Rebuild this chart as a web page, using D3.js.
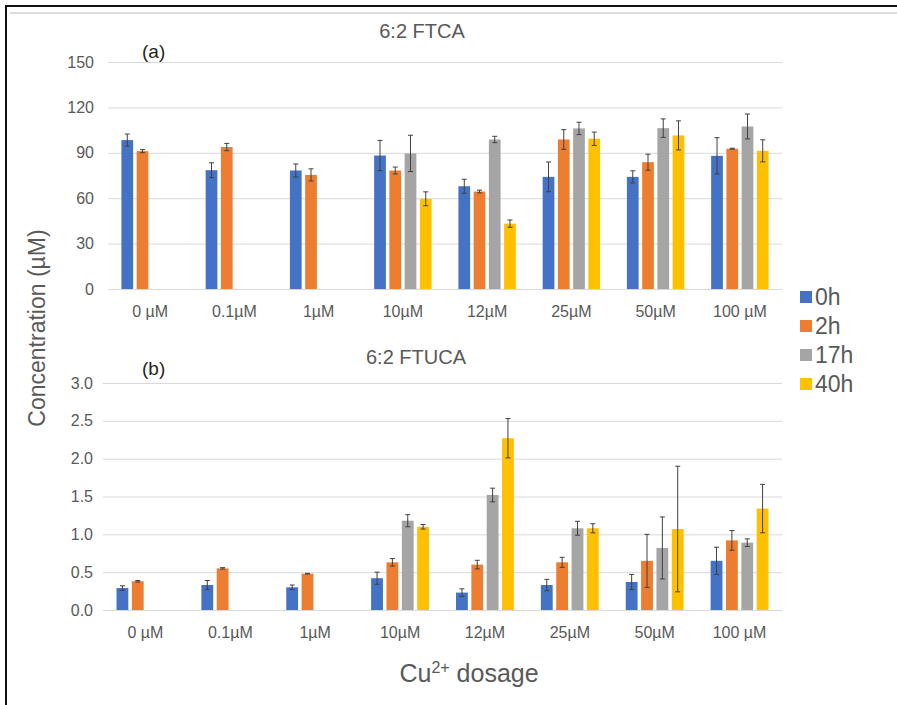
<!DOCTYPE html>
<html lang="en">
  <head>
  <meta charset="utf-8">
  <script type="text/javascript" src="https://cdn.jsdelivr.net/npm/d3@7"></script>
  <style type="text/css">
    body {
      margin: 0px;
      background: #fff;
    }
    text {
      font-family: "Liberation Sans", Arial, sans-serif;
      fill: #595959;
    }
    .grid line {
      stroke: #d9d9d9;
      stroke-width: 1;
    }
    .err {
      stroke: #404040;
      stroke-width: 1;
    }
  </style>
  </head>

  <body>
    <div id="svg"></div>
    <script type="text/javascript">
      var W = 897, H = 705;

      var categories = ["0 µM", "0.1µM", "1µM", "10µM", "12µM", "25µM", "50µM", "100 µM"];
      var series = ["0h", "2h", "17h", "40h"];
      var colors = ["#4472c4", "#ed7d31", "#a5a5a5", "#ffc000"];

      // (a) 6:2 FTCA, µM
      var ftca0h  = [98.4, 78.5, 78.3, 88.2, 67.9, 74.1, 74.1, 88.0];
      var ftca2h  = [91.1, 93.8, 75.4, 78.3, 64.4, 98.8, 83.8, 92.7];
      var ftca17h = [null, null, null, 89.6, 98.8, 106.1, 106.3, 107.4];
      var ftca40h = [null, null, null, 59.6, 43.2, 99.3, 101.5, 91.3];
      var ftca0hErr  = [4.0, 4.9, 4.3, 10.0, 4.6, 9.8, 4.0, 12.0];
      var ftca2hErr  = [1.0, 2.4, 4.0, 2.3, 0.9, 6.5, 5.3, 0.3];
      var ftca17hErr = [null, null, null, 12.0, 2.1, 4.1, 6.1, 8.2];
      var ftca40hErr = [null, null, null, 4.6, 2.4, 4.4, 9.6, 7.3];
      var ftcaTicks = [0, 30, 60, 90, 120, 150];

      // (b) 6:2 FTUCA, µM
      var ftuca0h  = [0.29, 0.33, 0.30, 0.42, 0.23, 0.33, 0.37, 0.65];
      var ftuca2h  = [0.38, 0.55, 0.48, 0.63, 0.60, 0.63, 0.65, 0.92];
      var ftuca17h = [null, null, null, 1.18, 1.52, 1.08, 0.82, 0.89];
      var ftuca40h = [null, null, null, 1.10, 2.27, 1.08, 1.07, 1.34];
      var ftuca0hErr  = [0.03, 0.06, 0.03, 0.08, 0.05, 0.075, 0.10, 0.18];
      var ftuca2hErr  = [0.01, 0.01, 0.005, 0.05, 0.057, 0.066, 0.35, 0.13];
      var ftuca17hErr = [null, null, null, 0.08, 0.09, 0.092, 0.41, 0.05];
      var ftuca40hErr = [null, null, null, 0.03, 0.26, 0.06, 0.83, 0.32];
      var ftucaTicks = [0, 0.5, 1.0, 1.5, 2.0, 2.5, 3.0];

      var svg = d3.select("#svg").append("svg")
        .attr("width", W)
        .attr("height", H);

      // frame lines
      svg.append("line").attr("x1", 6).attr("x2", W).attr("y1", 6).attr("y2", 6)
        .attr("stroke", "#111").attr("stroke-width", 2);
      svg.append("line").attr("x1", 6).attr("x2", 6).attr("y1", 5).attr("y2", H)
        .attr("stroke", "#111").attr("stroke-width", 2);
      svg.append("line").attr("x1", 10).attr("x2", W).attr("y1", 13).attr("y2", 13)
        .attr("stroke", "#d0d0d0").attr("stroke-width", 1.5);

      function rows(vals, errs) {
        // one object per category with a value per series
        return categories.map(function(c, i) {
          return {cat: c, items: series.map(function(s, j) {
            return {key: s, v: vals[j][i], e: errs[j][i], color: colors[j]};
          })};
        });
      }

      function panel(opt) {
        var x0 = d3.scaleBand()
          .domain(categories)
          .range([opt.left, opt.right])
          .padding(0);
        var x1 = d3.scaleBand()
          .domain(series)
          .range([0, x0.bandwidth()])
          .paddingInner(0.23)
          .paddingOuter(0.88);
        var y = d3.scaleLinear()
          .domain([0, opt.max])
          .range([opt.bottom, opt.top]);

        var g = svg.append("g");

        // gridlines + y labels
        g.append("g")
          .attr("class", "grid")
          .attr("transform", "translate(" + opt.left + ",0)")
          .call(d3.axisLeft(y).tickValues(opt.ticks).tickFormat(opt.fmt)
            .tickSizeInner(-(opt.right - opt.left)).tickSizeOuter(0).tickPadding(opt.pad))
          .call(function(a) { a.select(".domain").remove(); })
          .selectAll("text")
            .style("font-size", "16px")
            .style("fill", "#595959");

        // x labels
        g.append("g")
          .attr("transform", "translate(0," + opt.bottom + ")")
          .call(d3.axisBottom(x0).tickSize(0).tickPadding(17))
          .call(function(a) { a.select(".domain").remove(); })
          .selectAll("text")
            .style("font-size", "16px")
            .style("fill", "#595959");

        var groups = g.append("g").selectAll("g")
          .data(opt.data)
          .enter().append("g")
            .attr("transform", function(d) { return "translate(" + x0(d.cat) + ",0)"; });

        var items = groups.selectAll("g")
          .data(function(d) { return d.items.filter(function(it) { return it.v != null; }); })
          .enter().append("g");

        items.append("rect")
          .attr("x", function(d) { return x1(d.key); })
          .attr("y", function(d) { return y(d.v); })
          .attr("width", x1.bandwidth())
          .attr("height", function(d) { return y(0) - y(d.v); })
          .attr("fill", function(d) { return d.color; });

        var cx = function(d) { return x1(d.key) + x1.bandwidth() / 2; };
        items.append("line").attr("class", "err")
          .attr("x1", cx).attr("x2", cx)
          .attr("y1", function(d) { return y(d.v + d.e); })
          .attr("y2", function(d) { return y(d.v - d.e); });
        items.append("line").attr("class", "err")
          .attr("x1", function(d) { return cx(d) - 2.5; })
          .attr("x2", function(d) { return cx(d) + 2.5; })
          .attr("y1", function(d) { return y(d.v + d.e); })
          .attr("y2", function(d) { return y(d.v + d.e); });
        items.append("line").attr("class", "err")
          .attr("x1", function(d) { return cx(d) - 2.5; })
          .attr("x2", function(d) { return cx(d) + 2.5; })
          .attr("y1", function(d) { return y(d.v - d.e); })
          .attr("y2", function(d) { return y(d.v - d.e); });

        // titles
        g.append("text")
          .attr("x", opt.titleX)
          .attr("y", opt.titleY)
          .style("text-anchor", "middle")
          .style("font-size", "20px")
          .text(opt.title);
        g.append("text")
          .attr("x", 142)
          .attr("y", opt.tagY)
          .style("font-size", "19px")
          .style("fill", "#262626")
          .text(opt.tag);
      }

      panel({
        data: rows([ftca0h, ftca2h, ftca17h, ftca40h], [ftca0hErr, ftca2hErr, ftca17hErr, ftca40hErr]),
        left: 108, right: 782, top: 62, bottom: 289, max: 150,
        ticks: ftcaTicks, fmt: d3.format("d"), pad: 14,
        title: "6:2 FTCA", titleX: 422, titleY: 38, tag: "(a)", tagY: 58
      });

      panel({
        data: rows([ftuca0h, ftuca2h, ftuca17h, ftuca40h], [ftuca0hErr, ftuca2hErr, ftuca17hErr, ftuca40hErr]),
        left: 103, right: 782, top: 383, bottom: 610, max: 3,
        ticks: ftucaTicks, fmt: d3.format(".1f"), pad: 10,
        title: "6:2 FTUCA", titleX: 416, titleY: 364, tag: "(b)", tagY: 375
      });

      // axis titles
      svg.append("text")
        .attr("transform", "translate(45,328) rotate(-90)")
        .style("text-anchor", "middle")
        .style("font-size", "23px")
        .text("Concentration (µM)");

      var xt = svg.append("text")
        .attr("x", 469)
        .attr("y", 682)
        .style("text-anchor", "middle")
        .style("font-size", "25px");
      xt.append("tspan").text("Cu");
      xt.append("tspan").attr("dy", -9).style("font-size", "16px").text("2+");
      xt.append("tspan").attr("dy", 9).text(" dosage");

      // legend
      var legend = svg.selectAll("g.legend")
        .data(series)
        .enter().append("g")
          .attr("class", "legend")
          .attr("transform", function(d, i) { return "translate(800," + (297 + i * 29) + ")"; });
      legend.append("rect")
        .attr("x", 0).attr("y", -6)
        .attr("width", 12).attr("height", 12)
        .attr("fill", function(d, i) { return colors[i]; });
      legend.append("text")
        .attr("x", 15)
        .attr("y", 8)
        .style("font-size", "23px")
        .text(function(d) { return d; });
    </script>
  </body>
</html>
